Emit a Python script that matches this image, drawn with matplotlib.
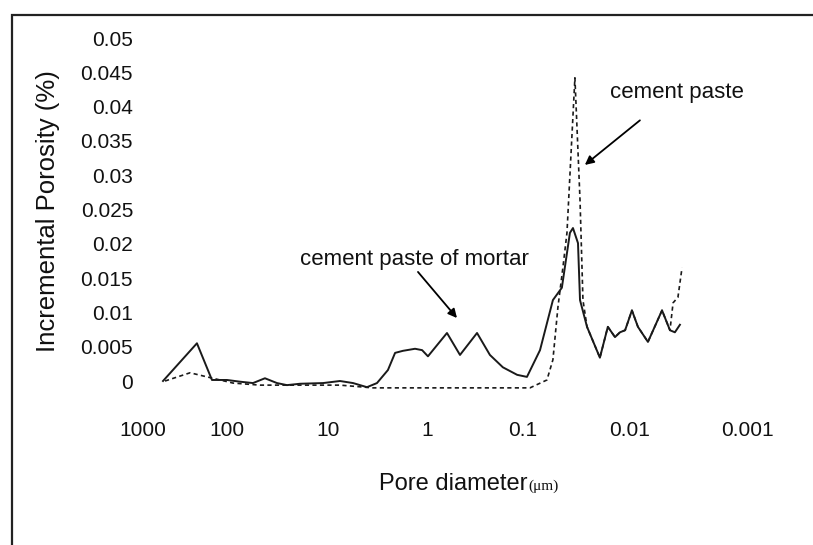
import numpy as np
import matplotlib
matplotlib.use("Agg")
import matplotlib.pyplot as plt
from matplotlib.patches import Rectangle

# pore diameters (um) and incremental porosity, mortar paste (solid)
mortar_d = [578, 228, 151, 100, 74.3, 55.3, 42.1, 32.0, 25.5, 18.9, 11.2, 7.57,
            5.58, 4.04, 3.20, 2.48, 2.10, 1.75, 1.32, 1.12, 0.977, 0.619, 0.453,
            0.301, 0.221, 0.162, 0.115, 0.0918, 0.0693, 0.0525, 0.0433, 0.0364,
            0.0341, 0.0306, 0.0293, 0.0252, 0.0191, 0.0161, 0.0138, 0.0124,
            0.0111, 0.00962, 0.00855, 0.00789, 0.00702, 0.00532, 0.00455,
            0.00413, 0.00374]
mortar_p = [0.0, 0.0055, 0.00015, 0.00015, -0.0001, -0.0003, 0.0004, -0.0003,
            -0.0006, -0.0004, -0.0003, 0.0, -0.0003, -0.0009, -0.0003, 0.0016,
            0.0041, 0.0044, 0.0047, 0.0045, 0.0036, 0.0070, 0.0038, 0.0070,
            0.0038, 0.0020, 0.0009, 0.0006, 0.0045, 0.0118, 0.0136, 0.0216,
            0.0223, 0.0201, 0.0118, 0.0079, 0.0034, 0.0079, 0.0064, 0.0071,
            0.0074, 0.0103, 0.0079, 0.0070, 0.0057, 0.0103, 0.0074, 0.0071,
            0.0082]

# plain cement paste (dashed)
paste_d = [547, 275, 173, 121, 87.3, 47.1, 16.1, 7.57, 3.51, 0.576, 0.137,
           0.086, 0.0597, 0.0525, 0.0471, 0.0423, 0.0388, 0.0327, 0.0293,
           0.0275, 0.0252, 0.0191, 0.0161, 0.0138, 0.0124, 0.0111, 0.00962,
           0.00855, 0.00789, 0.00702, 0.00532, 0.00455, 0.00428, 0.00389,
           0.00359]
paste_p = [0.0, 0.0012, 0.0006, 0.00015, -0.0003, -0.0006, -0.0006, -0.0006,
           -0.001, -0.001, -0.001, -0.001, 0.00015, 0.0031, 0.0108, 0.0166,
           0.0216, 0.0442, 0.0264, 0.0118, 0.0079, 0.0034, 0.0079, 0.0064,
           0.0071, 0.0074, 0.0103, 0.0079, 0.0070, 0.0057, 0.0103, 0.0074,
           0.0114, 0.0122, 0.0165]

x_ticks = [1000, 100, 10, 1, 0.1, 0.01, 0.001]
x_tick_labels = ["1000", "100", "10", "1", "0.1", "0.01", "0.001"]
y_ticks = [0, 0.005, 0.01, 0.015, 0.02, 0.025, 0.03, 0.035, 0.04, 0.045, 0.05]
y_tick_labels = ["0", "0.005", "0.01", "0.015", "0.02", "0.025", "0.03",
                 "0.035", "0.04", "0.045", "0.05"]

# decades on the printed axis are not evenly spaced
decade_L = [-4, -3, -2, -1, 0, 1, 2, 3, 4]
decade_pos = [59, 143, 227, 328, 427, 523, 630, 747, 864]


def fwd(d):
    # increasing with d, so the axis is flipped afterwards with set_xlim
    d = np.clip(np.asarray(d, dtype=float), 1e-12, None)
    return -np.interp(-np.log10(d), decade_L, decade_pos)


def inv(p):
    return 10.0 ** (-np.interp(-np.asarray(p, dtype=float), decade_pos, decade_L))


W, H = 813, 545
fig = plt.figure(figsize=(W / 100, H / 100), dpi=100)
ax = fig.add_axes([140 / W, (H - 395) / H, 660 / W, 365 / H])

ax.set_xscale("function", functions=(fwd, inv))
ax.set_xlim(1086, 0.000352)
ax.set_ylim(-0.00204, 0.05117)

ax.plot(mortar_d, mortar_p, color="#1a1a1a", lw=1.4)
ax.plot(paste_d, paste_p, color="#1a1a1a", lw=1.2, linestyle=(0, (2.5, 2)))

tick_font = dict(family="Liberation Sans", size=15)
ax.set_xticks(x_ticks)
ax.set_xticklabels(x_tick_labels, **tick_font)
ax.set_yticks(y_ticks)
ax.set_yticklabels(y_tick_labels, **tick_font)
ax.xaxis.set_minor_locator(matplotlib.ticker.NullLocator())
ax.tick_params(axis="x", length=0, pad=19, colors="#111111")
ax.tick_params(axis="y", length=0, pad=5, colors="#111111")
for s in ax.spines.values():
    s.set_visible(False)

arrow = dict(arrowstyle="-|>", color="black", lw=1.3, mutation_scale=13,
             shrinkA=0, shrinkB=0)
ax.annotate("", xy=(0.0264, 0.0315), xytext=(0.00822, 0.0380), arrowprops=arrow)
ax.annotate("", xy=(0.487, 0.00918), xytext=(1.233, 0.0159), arrowprops=arrow)
ax.text(0.01538, 0.04125, "cement paste", fontsize=16,
        family="Liberation Sans", va="baseline", ha="left", color="#111111")
ax.text(18.9, 0.01691, "cement paste of mortar", fontsize=16,
        family="Liberation Sans", va="baseline", ha="left", color="#111111")

fig.text(48 / W, 1 - 211 / H, "Incremental Porosity (%)", rotation=90,
         fontsize=18.5, family="Liberation Sans", ha="center", va="center",
         color="#111111")
fig.text(527 / W, 1 - 490 / H, "Pore diameter", fontsize=17,
         family="Liberation Sans", ha="right", va="baseline", color="#111111")
fig.text(528 / W, 1 - 490 / H, "(\u03bcm)", fontsize=11,
         family="Liberation Serif", ha="left", va="baseline", color="#111111")

# outer frame, only the top and left edges fall inside the image
fig.patches.append(Rectangle((12 / W, -0.1), 1.2, 1 - 15 / H + 0.1,
                             transform=fig.transFigure, fill=False,
                             edgecolor="#222222", lw=1.6))

fig.savefig("out.png", dpi=100)
